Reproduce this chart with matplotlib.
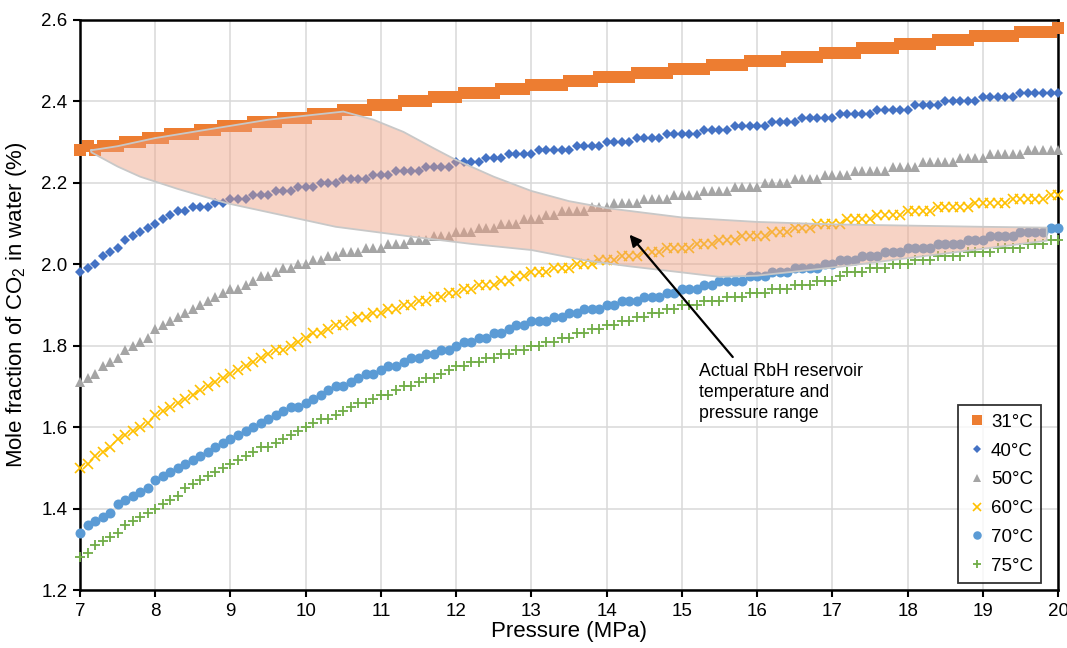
import matplotlib
matplotlib.use('Agg')
import matplotlib.pyplot as plt
import numpy as np

plt.rcParams['font.family'] = ['Liberation Sans', 'DejaVu Sans']
plt.rcParams['mathtext.fontset'] = 'custom'
plt.rcParams['mathtext.rm'] = 'Liberation Sans'

# pressure steps, 7.0 ... 20.0 MPa every 0.1
pressure = np.arange(70, 201) / 10.0

# mole fraction of CO2 (%), one row per MPa (x.0 ... x.9), last value at 20.0
t31 = [2.28, 2.29, 2.28, 2.29, 2.29, 2.29, 2.30, 2.30, 2.30, 2.31,
       2.31, 2.31, 2.32, 2.32, 2.32, 2.32, 2.33, 2.33, 2.33, 2.34,
       2.34, 2.34, 2.34, 2.35, 2.35, 2.35, 2.35, 2.36, 2.36, 2.36,
       2.36, 2.37, 2.37, 2.37, 2.37, 2.38, 2.38, 2.38, 2.38, 2.39,
       2.39, 2.39, 2.39, 2.40, 2.40, 2.40, 2.40, 2.41, 2.41, 2.41,
       2.41, 2.42, 2.42, 2.42, 2.42, 2.42, 2.43, 2.43, 2.43, 2.43,
       2.44, 2.44, 2.44, 2.44, 2.44, 2.45, 2.45, 2.45, 2.45, 2.46,
       2.46, 2.46, 2.46, 2.46, 2.47, 2.47, 2.47, 2.47, 2.47, 2.48,
       2.48, 2.48, 2.48, 2.48, 2.49, 2.49, 2.49, 2.49, 2.49, 2.50,
       2.50, 2.50, 2.50, 2.50, 2.51, 2.51, 2.51, 2.51, 2.51, 2.52,
       2.52, 2.52, 2.52, 2.52, 2.53, 2.53, 2.53, 2.53, 2.53, 2.54,
       2.54, 2.54, 2.54, 2.54, 2.55, 2.55, 2.55, 2.55, 2.55, 2.56,
       2.56, 2.56, 2.56, 2.56, 2.56, 2.57, 2.57, 2.57, 2.57, 2.57,
       2.58]

t40 = [1.98, 1.99, 2.00, 2.02, 2.03, 2.04, 2.06, 2.07, 2.08, 2.09,
       2.10, 2.11, 2.12, 2.13, 2.13, 2.14, 2.14, 2.14, 2.15, 2.15,
       2.16, 2.16, 2.16, 2.17, 2.17, 2.17, 2.18, 2.18, 2.18, 2.19,
       2.19, 2.19, 2.20, 2.20, 2.20, 2.21, 2.21, 2.21, 2.21, 2.22,
       2.22, 2.22, 2.23, 2.23, 2.23, 2.23, 2.24, 2.24, 2.24, 2.24,
       2.25, 2.25, 2.25, 2.25, 2.26, 2.26, 2.26, 2.27, 2.27, 2.27,
       2.27, 2.28, 2.28, 2.28, 2.28, 2.28, 2.29, 2.29, 2.29, 2.29,
       2.30, 2.30, 2.30, 2.30, 2.31, 2.31, 2.31, 2.31, 2.32, 2.32,
       2.32, 2.32, 2.32, 2.33, 2.33, 2.33, 2.33, 2.34, 2.34, 2.34,
       2.34, 2.34, 2.35, 2.35, 2.35, 2.35, 2.36, 2.36, 2.36, 2.36,
       2.36, 2.37, 2.37, 2.37, 2.37, 2.37, 2.38, 2.38, 2.38, 2.38,
       2.38, 2.39, 2.39, 2.39, 2.39, 2.40, 2.40, 2.40, 2.40, 2.40,
       2.41, 2.41, 2.41, 2.41, 2.41, 2.42, 2.42, 2.42, 2.42, 2.42,
       2.42]

t50 = [1.71, 1.72, 1.73, 1.75, 1.76, 1.77, 1.79, 1.80, 1.81, 1.82,
       1.84, 1.85, 1.86, 1.87, 1.88, 1.89, 1.90, 1.91, 1.92, 1.93,
       1.94, 1.94, 1.95, 1.96, 1.97, 1.97, 1.98, 1.99, 1.99, 2.00,
       2.00, 2.01, 2.01, 2.02, 2.02, 2.03, 2.03, 2.03, 2.04, 2.04,
       2.04, 2.05, 2.05, 2.05, 2.06, 2.06, 2.06, 2.07, 2.07, 2.07,
       2.08, 2.08, 2.08, 2.09, 2.09, 2.09, 2.10, 2.10, 2.10, 2.11,
       2.11, 2.11, 2.12, 2.12, 2.13, 2.13, 2.13, 2.13, 2.14, 2.14,
       2.14, 2.15, 2.15, 2.15, 2.15, 2.16, 2.16, 2.16, 2.16, 2.17,
       2.17, 2.17, 2.17, 2.18, 2.18, 2.18, 2.18, 2.19, 2.19, 2.19,
       2.19, 2.20, 2.20, 2.20, 2.20, 2.21, 2.21, 2.21, 2.21, 2.22,
       2.22, 2.22, 2.22, 2.23, 2.23, 2.23, 2.23, 2.23, 2.24, 2.24,
       2.24, 2.24, 2.25, 2.25, 2.25, 2.25, 2.25, 2.26, 2.26, 2.26,
       2.26, 2.27, 2.27, 2.27, 2.27, 2.27, 2.28, 2.28, 2.28, 2.28,
       2.28]

t60 = [1.50, 1.51, 1.53, 1.54, 1.55, 1.57, 1.58, 1.59, 1.60, 1.61,
       1.63, 1.64, 1.65, 1.66, 1.67, 1.68, 1.69, 1.70, 1.71, 1.72,
       1.73, 1.74, 1.75, 1.76, 1.77, 1.78, 1.79, 1.79, 1.80, 1.81,
       1.82, 1.83, 1.83, 1.84, 1.85, 1.85, 1.86, 1.87, 1.87, 1.88,
       1.88, 1.89, 1.89, 1.90, 1.90, 1.91, 1.91, 1.92, 1.92, 1.93,
       1.93, 1.94, 1.94, 1.95, 1.95, 1.95, 1.96, 1.96, 1.97, 1.97,
       1.98, 1.98, 1.98, 1.99, 1.99, 1.99, 2.00, 2.00, 2.00, 2.01,
       2.01, 2.01, 2.02, 2.02, 2.02, 2.03, 2.03, 2.03, 2.04, 2.04,
       2.04, 2.04, 2.05, 2.05, 2.05, 2.06, 2.06, 2.06, 2.07, 2.07,
       2.07, 2.07, 2.08, 2.08, 2.08, 2.09, 2.09, 2.09, 2.10, 2.10,
       2.10, 2.10, 2.11, 2.11, 2.11, 2.11, 2.12, 2.12, 2.12, 2.12,
       2.13, 2.13, 2.13, 2.13, 2.14, 2.14, 2.14, 2.14, 2.14, 2.15,
       2.15, 2.15, 2.15, 2.15, 2.16, 2.16, 2.16, 2.16, 2.16, 2.17,
       2.17]

t70 = [1.34, 1.36, 1.37, 1.38, 1.39, 1.41, 1.42, 1.43, 1.44, 1.45,
       1.47, 1.48, 1.49, 1.50, 1.51, 1.52, 1.53, 1.54, 1.55, 1.56,
       1.57, 1.58, 1.59, 1.60, 1.61, 1.62, 1.63, 1.64, 1.65, 1.65,
       1.66, 1.67, 1.68, 1.69, 1.70, 1.70, 1.71, 1.72, 1.73, 1.73,
       1.74, 1.75, 1.75, 1.76, 1.77, 1.77, 1.78, 1.78, 1.79, 1.79,
       1.80, 1.81, 1.81, 1.82, 1.82, 1.83, 1.83, 1.84, 1.85, 1.85,
       1.86, 1.86, 1.86, 1.87, 1.87, 1.88, 1.88, 1.89, 1.89, 1.89,
       1.90, 1.90, 1.91, 1.91, 1.91, 1.92, 1.92, 1.92, 1.93, 1.93,
       1.94, 1.94, 1.94, 1.95, 1.95, 1.96, 1.96, 1.96, 1.96, 1.97,
       1.97, 1.97, 1.98, 1.98, 1.98, 1.99, 1.99, 1.99, 1.99, 2.00,
       2.00, 2.01, 2.01, 2.01, 2.02, 2.02, 2.02, 2.03, 2.03, 2.03,
       2.04, 2.04, 2.04, 2.04, 2.05, 2.05, 2.05, 2.05, 2.06, 2.06,
       2.06, 2.07, 2.07, 2.07, 2.07, 2.08, 2.08, 2.08, 2.08, 2.09,
       2.09]

t75 = [1.28, 1.29, 1.31, 1.32, 1.33, 1.34, 1.36, 1.37, 1.38, 1.39,
       1.40, 1.41, 1.42, 1.43, 1.45, 1.46, 1.47, 1.48, 1.49, 1.50,
       1.51, 1.52, 1.53, 1.54, 1.55, 1.55, 1.56, 1.57, 1.58, 1.59,
       1.60, 1.61, 1.62, 1.62, 1.63, 1.64, 1.65, 1.66, 1.66, 1.67,
       1.68, 1.68, 1.69, 1.70, 1.70, 1.71, 1.72, 1.72, 1.73, 1.74,
       1.75, 1.75, 1.76, 1.76, 1.77, 1.77, 1.78, 1.78, 1.79, 1.79,
       1.80, 1.80, 1.81, 1.81, 1.82, 1.82, 1.83, 1.83, 1.84, 1.84,
       1.85, 1.85, 1.86, 1.86, 1.87, 1.87, 1.88, 1.88, 1.89, 1.89,
       1.90, 1.90, 1.90, 1.91, 1.91, 1.91, 1.92, 1.92, 1.92, 1.93,
       1.93, 1.93, 1.94, 1.94, 1.94, 1.95, 1.95, 1.95, 1.96, 1.96,
       1.96, 1.97, 1.98, 1.98, 1.98, 1.99, 1.99, 1.99, 2.00, 2.00,
       2.00, 2.01, 2.01, 2.01, 2.02, 2.02, 2.02, 2.02, 2.03, 2.03,
       2.03, 2.03, 2.04, 2.04, 2.04, 2.04, 2.05, 2.05, 2.05, 2.06,
       2.06]

# outline of the shaded RbH reservoir range
region_top_p = [7.15, 7.5, 8.0, 8.5, 9.0, 9.5, 10.0, 10.5, 10.9, 11.3, 11.7, 12.0,
                12.5, 13.0, 13.5, 14.0, 15.0, 16.0, 17.0, 18.0, 19.0, 19.85]
region_top_y = [2.28, 2.29, 2.31, 2.325, 2.34, 2.355, 2.365, 2.375, 2.355, 2.325, 2.285, 2.256,
                2.215, 2.18, 2.155, 2.138, 2.115, 2.104, 2.098, 2.095, 2.092, 2.09]
region_bot_p = [7.15, 7.5, 7.8, 8.3, 8.95, 9.7, 10.4, 11.4, 12.2, 13.0, 13.7, 14.3,
                15.0, 15.5, 16.0, 16.5, 17.1, 18.0, 19.0, 19.85]
region_bot_y = [2.275, 2.24, 2.215, 2.185, 2.15, 2.12, 2.092, 2.068, 2.05, 2.035, 2.01, 1.995,
                1.98, 1.969, 1.972, 1.982, 1.994, 2.015, 2.038, 2.058]

labels = ['31°C', '40°C', '50°C', '60°C', '70°C', '75°C']

fig = plt.figure(figsize=(10.67, 6.48), dpi=100)
ax = fig.add_axes([0.075, 0.0895, 0.9166, 0.8797])

ax.plot(pressure, t31, ls='none', marker='s', ms=8, color='#ED7D31', mew=0, label=labels[0], zorder=3, clip_on=False)
ax.plot(pressure, t40, ls='none', marker='D', ms=4.8, color='#4472C4', mew=0, label=labels[1], zorder=3, clip_on=False)
ax.plot(pressure, t50, ls='none', marker='^', ms=7.5, color='#A5A5A5', mew=0, label=labels[2], zorder=3, clip_on=False)
ax.plot(pressure, t60, ls='none', marker='x', ms=6.8, color='#FFC000', mew=1.2, label=labels[3], zorder=3, clip_on=False)
ax.plot(pressure, t70, ls='none', marker='o', ms=7.2, color='#5B9BD5', mew=0, label=labels[4], zorder=3, clip_on=False)
ax.plot(pressure, t75, ls='none', marker='+', ms=7, color='#70AD47', mew=1.3, label=labels[5], zorder=3, clip_on=False)

# shaded range drawn on top, semi transparent
poly_p = region_top_p + region_bot_p[::-1]
poly_y = region_top_y + region_bot_y[::-1]
ax.fill(poly_p, poly_y, facecolor='#ef9f80', alpha=0.45, edgecolor='none', zorder=4)
ax.plot(poly_p + [poly_p[0]], poly_y + [poly_y[0]], color='#c8c8c8', lw=1.3, zorder=4)

ax.annotate('', xy=(14.28, 2.078), xytext=(15.70, 1.767),
            arrowprops=dict(arrowstyle='-|>', color='black', lw=1.6, mutation_scale=17), zorder=5)
ax.text(15.23, 1.757, 'Actual RbH reservoir\ntemperature and\npressure range',
        fontsize=12.8, va='top', ha='left', linespacing=1.3, zorder=5)

ax.set_xlim(7, 20)
ax.set_ylim(1.2, 2.6)
ax.set_xticks(np.arange(7, 21, 1))
ax.set_yticks([1.2, 1.4, 1.6, 1.8, 2.0, 2.2, 2.4, 2.6])
ax.set_yticklabels(['1.2', '1.4', '1.6', '1.8', '2.0', '2.2', '2.4', '2.6'])
ax.grid(True, color='#d9d9d9', lw=1.1, zorder=0)
ax.set_axisbelow(True)
for s in ax.spines.values():
    s.set_linewidth(1.8)
    s.set_color('black')
ax.tick_params(direction='out', length=5, width=1.5, labelsize=13.5, colors='black', pad=4)

ax.set_xlabel('Pressure (MPa)', fontsize=16, labelpad=1)
ax.set_ylabel(r'Mole fraction of CO$_\mathregular{2}$ in water (%)', fontsize=16, labelpad=9)

leg = ax.legend(loc='lower right', bbox_to_anchor=(0.983, 0.012), borderaxespad=0,
                fontsize=13.5, frameon=True, fancybox=False, edgecolor='black',
                markerscale=0.85, handlelength=1.1, handletextpad=0.2, labelspacing=0.62,
                borderpad=0.45)
leg.get_frame().set_linewidth(1.3)
leg.set_zorder(6)

plt.savefig('out.png', dpi=100)
